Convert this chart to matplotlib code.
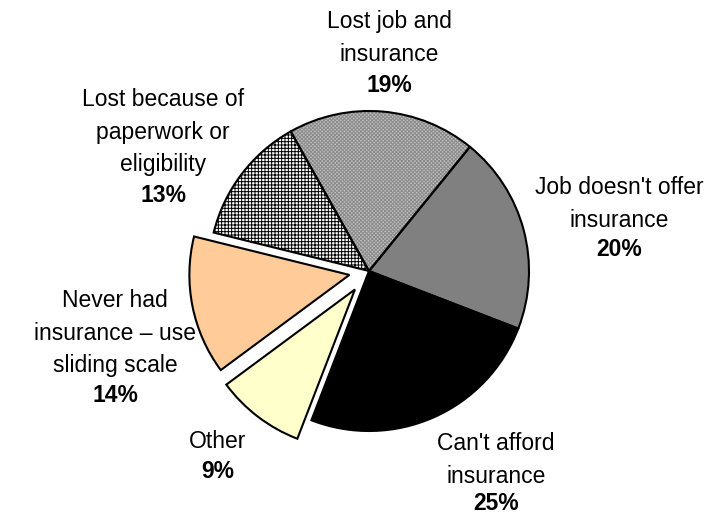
import matplotlib
matplotlib.use('Agg')
import matplotlib.pyplot as plt

plt.rcParams['font.family'] = ['Liberation Sans', 'DejaVu Sans']
plt.rcParams['hatch.linewidth'] = 0.7

categories = ["Lost job and\ninsurance", "Job doesn't offer\ninsurance",
              "Can't afford\ninsurance", "Other",
              "Never had\ninsurance \u2013 use\nsliding scale",
              "Lost because of\npaperwork or\neligibility"]
values = [19, 20, 25, 9, 14, 13]
pct_labels = [f"{v}%" for v in values]

colors = ['#c0c0c0', '#808080', '#000000', '#ffffcc', '#ffcc99', '#ffffff']
hatches = ['xxxxxxxxx', '', '', '', '', '+++++']
hatch_colors = ['#8a8a8a', '#808080', '#000000', '#ffffcc', '#ffcc99', '#000000']
explode = [0, 0, 0, 0.145, 0.125, 0]

# label layout (pixel coords: x, name-block center y, percent y)
label_pos = [(389, 38, 86), (619, 204, 250), (496, 460, 503),
             (218, 442, 472), (115, 333, 395), (163, 132, 195)]

W, H = 709, 516
fig = plt.figure(figsize=(W / 100, H / 100), dpi=100)
ax = fig.add_axes([0, 0, 1, 1])
ax.set_xlim(0, W)
ax.set_ylim(0, H)
ax.set_aspect('equal')
ax.axis('off')

center = (369, H - 271)
radius = 160
start = 119.3
explode_abs = [e * radius for e in explode]

wedges, _ = ax.pie(values, colors=colors, explode=explode_abs, startangle=start,
                   counterclock=False, center=center, radius=radius,
                   wedgeprops=dict(linewidth=0))
for w, h, hc in zip(wedges, hatches, hatch_colors):
    if h:
        w.set_hatch(h)
        w.set_edgecolor(hc)
    else:
        w.set_edgecolor('none')

wedges2, _ = ax.pie(values, explode=explode_abs, startangle=start,
                    counterclock=False, center=center, radius=radius,
                    wedgeprops=dict(fill=False, edgecolor='black', linewidth=1.5))

ax.set_xlim(0, W)
ax.set_ylim(0, H)

for name, pct, (x, yc, yp) in zip(categories, pct_labels, label_pos):
    ax.text(x, H - yc, name, ha='center', va='center', fontsize=16.5,
            linespacing=1.55, color='black')
    ax.text(x, H - yp, pct, ha='center', va='center', fontsize=16.5,
            fontweight='bold', color='black')

fig.savefig('out.png', dpi=100)
